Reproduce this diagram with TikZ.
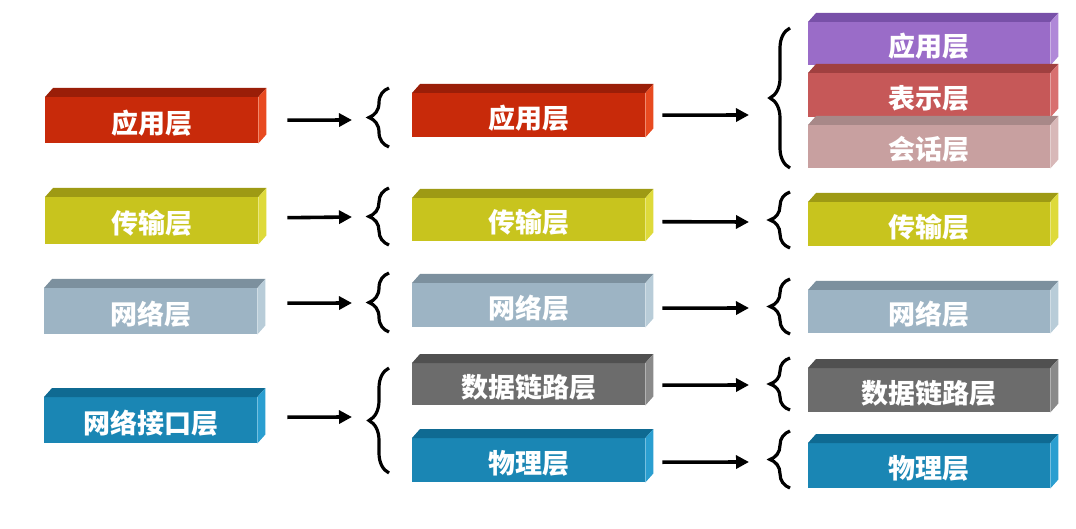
\documentclass[tikz,border=0pt]{standalone}
\usepackage{fontspec}
\newfontfamily\cjk{Noto Sans CJK SC}
\usetikzlibrary{calc,arrows.meta,decorations.pathreplacing}
\definecolor{redF}{HTML}{C82A0A}\definecolor{redT}{HTML}{9A1E08}\definecolor{redS}{HTML}{E84A20}
\definecolor{yelF}{HTML}{C8C41E}\definecolor{yelT}{HTML}{9E9A14}\definecolor{yelS}{HTML}{DEDA3A}
\definecolor{stF}{HTML}{9DB4C4}\definecolor{stT}{HTML}{7C909E}\definecolor{stS}{HTML}{B8CCD8}
\definecolor{bluF}{HTML}{1A86B4}\definecolor{bluT}{HTML}{0F6A92}\definecolor{bluS}{HTML}{2A9ED0}
\definecolor{grF}{HTML}{6C6C6C}\definecolor{grT}{HTML}{505050}\definecolor{grS}{HTML}{8A8A8A}
\definecolor{puF}{HTML}{9A6CC8}\definecolor{puT}{HTML}{7850A8}\definecolor{puS}{HTML}{B088D8}
\definecolor{rsF}{HTML}{C65858}\definecolor{rsT}{HTML}{A04040}\definecolor{rsS}{HTML}{D87070}
\definecolor{pkF}{HTML}{C8A0A0}\definecolor{pkT}{HTML}{A88888}\definecolor{pkS}{HTML}{D8B8B8}
\tikzset{
  layerbox/.style={draw=none, inner sep=0pt, anchor=north west},
  layertext/.style={text=white, font=\cjk\bfseries\fontsize{27}{27}\selectfont},
  arr/.style={line width=3.6pt, -{Triangle[length=13pt,width=13pt]}},
  brc/.style={line width=3.2pt, decorate, decoration={brace, amplitude=20pt}}
}
% #1 name, #2 x1, #3 y1, #4 x2, #5 y2, #6 front, #7 top, #8 side, #9 text
\newcommand{\lbox}[9]{%
  \node[layerbox, fill=#6, minimum width={(#4-#2)*1pt}, minimum height={(#5-#3)*1pt}] (#1) at (#2,#3) {};
  \fill[#7] (#1.north west) -- ++(8,-9) -- ($(#1.north east)+(8,-9)$) -- (#1.north east) -- cycle;
  \fill[#8] (#1.north east) -- ++(8,-9) -- ($(#1.south east)+(8,-9)$) -- (#1.south east) -- cycle;
  \node[layertext] at ($(#1.center)+(0,3)$) {#9};
}
\begin{document}
\begin{tikzpicture}[x=1pt,y=-1pt]
\useasboundingbox (0,0) rectangle (1076,529);
\fill[white] (0,0) rectangle (1076,529);
% left column
\lbox{L1}{45}{97}{258}{143}{redF}{redT}{redS}{应用层}
\lbox{L2}{45}{197}{258}{244}{yelF}{yelT}{yelS}{传输层}
\lbox{L3}{44}{288}{257}{334}{stF}{stT}{stS}{网络层}
\lbox{L4}{44}{397}{257}{443}{bluF}{bluT}{bluS}{网络接口层}
% middle column
\lbox{M1}{412}{93}{645}{137}{redF}{redT}{redS}{应用层}
\lbox{M2}{412}{198}{645}{241}{yelF}{yelT}{yelS}{传输层}
\lbox{M3}{412}{283}{645}{327}{stF}{stT}{stS}{网络层}
\lbox{M4}{412}{363}{645}{405}{grF}{grT}{grS}{数据链路层}
\lbox{M5}{412}{438}{645}{482}{bluF}{bluT}{bluS}{物理层}
% right column
\lbox{R1}{808}{22}{1050}{65}{puF}{puT}{puS}{应用层}
\lbox{R2}{808}{73}{1050}{117}{rsF}{rsT}{rsS}{表示层}
\lbox{R3}{808}{125}{1050}{168}{pkF}{pkT}{pkS}{会话层}
\lbox{R4}{808}{202}{1050}{246}{yelF}{yelT}{yelS}{传输层}
\lbox{R5}{808}{290}{1050}{333}{stF}{stT}{stS}{网络层}
\lbox{R6}{808}{368}{1050}{412}{grF}{grT}{grS}{数据链路层}
\lbox{R7}{808}{443}{1050}{488}{bluF}{bluT}{bluS}{物理层}
% arrows left -> middle
\coordinate (e1) at (352,120);
\coordinate (e2) at (352,217);
\coordinate (e3) at (352,303);
\coordinate (e4) at (352,417);
\draw[arr] ($(L1.east)+(29,0)$) -- (e1);
\draw[arr] ($(L2.east)+(29,-3)$) -- (e2);
\draw[arr] ($(L3.east)+(30,-8)$) -- (e3);
\draw[arr] ($(L4.east)+(30,-3)$) -- (e4);
% braces left
\draw[brc] (389,147) -- (389,88);
\draw[brc] (389,245) -- (389,188);
\draw[brc] (389,332) -- (389,273);
\draw[brc] (389,473) -- (389,368);
% arrows middle -> right
\coordinate (f1) at (749,115);
\coordinate (f2) at (749,222);
\coordinate (f3) at (749,308);
\coordinate (f4) at (749,385);
\coordinate (f5) at (749,462);
\draw[arr] ($(M1.east)+(17,0)$) -- (f1);
\draw[arr] ($(M2.east)+(17,2)$) -- (f2);
\draw[arr] ($(M3.east)+(17,3)$) -- (f3);
\draw[arr] ($(M4.east)+(17,1)$) -- (f4);
\draw[arr] ($(M5.east)+(17,2)$) -- (f5);
% braces right
\draw[brc] (790,168) -- (790,28);
\draw[brc] (790,248) -- (790,192);
\draw[brc] (790,334) -- (790,279);
\draw[brc] (790,410) -- (790,358);
\draw[brc] (790,488) -- (790,431);
\end{tikzpicture}
\end{document}
